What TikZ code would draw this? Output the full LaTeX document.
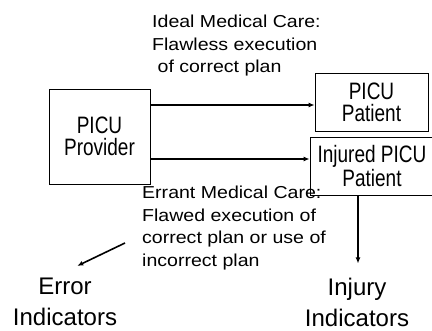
\documentclass[tikz,border=0pt]{standalone}
\usepackage{fontspec}
\usepackage{graphicx}
\setmainfont{Liberation Sans}
\usetikzlibrary{arrows.meta,positioning}
\newcommand{\widetext}[1]{\scalebox{1.13}[1]{#1}}
\newcommand{\talltext}[1]{\scalebox{1}[1.25]{#1}}
\tikzset{
  box/.style={draw,line width=0.8pt,align=center,font=\fontsize{19}{22}\selectfont},
  note/.style={align=left,inner sep=0pt,font=\fontsize{17.3}{22.5}\selectfont},
  big/.style={align=center,inner sep=0pt,font=\fontsize{24}{31}\selectfont},
  flow/.style={line width=1.6pt,-{Latex[length=6pt,width=5pt]}}
}
\begin{document}
\begin{tikzpicture}[x=1pt,y=1pt]
\useasboundingbox (0,0) rectangle (432,-331);
\node[box,minimum width=101pt,minimum height=95pt] (provider) at (99.5,-136.5) {\talltext{PICU}\\\talltext{Provider}};
\node[box,minimum width=113pt,minimum height=58pt] (patient) at (371.5,-102) {\talltext{PICU}\\\talltext{Patient}};
\node[box,minimum width=124pt,minimum height=58pt] (injured) at (372,-166) {\talltext{Injured PICU}\\\talltext{Patient}};
\node[note,anchor=west] (ideal) at (152,-46) {\widetext{Ideal Medical Care:}\\\widetext{Flawless execution}\\\widetext{\ of correct plan}};
\node[note,anchor=west] (errant) at (142,-228) {\widetext{Errant Medical Care:}\\\widetext{Flawed execution of}\\\widetext{correct plan or use of}\\\widetext{incorrect plan}};
\node[big] (error) at (65,-302) {Error\\Indicators};
\node[big] (injury) at (357,-302) {Injury\\Indicators};
\draw[flow] ([yshift=31.5pt]provider.east) -- ([yshift=31.5pt]provider.east -| patient.west);
\draw[flow] ([yshift=-22.5pt]provider.east) -- ([yshift=-22.5pt]provider.east -| injured.west);
\draw[flow] ([xshift=-14pt]injured.south) -- ([xshift=-14pt,yshift=14pt]injured.south |- injury.north);
\draw[flow] ([xshift=-17pt,yshift=-15pt]errant.west) -- ([xshift=-40pt,yshift=12pt]error.north east);
\end{tikzpicture}
\end{document}
